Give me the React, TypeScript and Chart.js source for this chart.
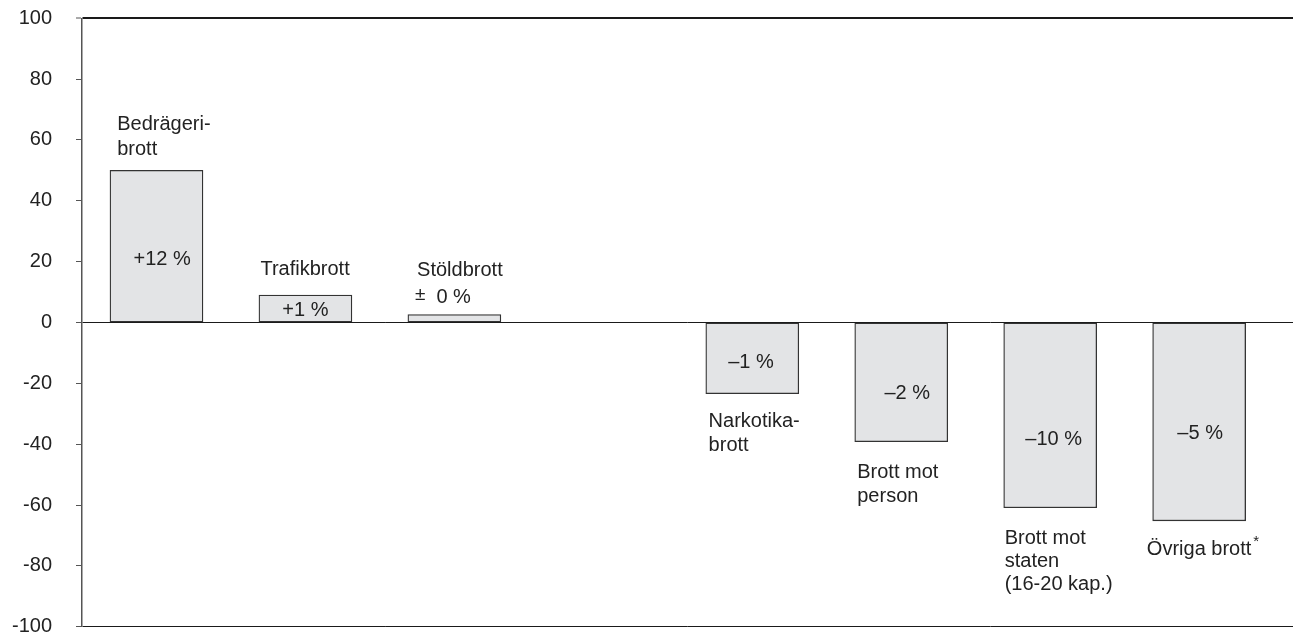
import React, { useEffect, useRef } from "react";
import { Chart, registerables } from "chart.js";

Chart.register(...registerables);

// ---- data ----
const categories: string[][] = [
  ["Bedrägeri-", "brott"],
  ["Trafikbrott"],
  ["Stöldbrott"],
  [],
  ["Narkotika-", "brott"],
  ["Brott mot", "person"],
  ["Brott mot", "staten", "(16-20 kap.)"],
  ["Övriga brott"],
];
const values: (number | null)[] = [50, 9, 2.6, null, -23.4, -39.2, -60.9, -65.2];
const changeLabels: string[] = ["+12 %", "+1 %", "± 0 %", "", "–1 %", "–2 %", "–10 %", "–5 %"];
const labelMarks: string[] = ["", "", "", "", "", "", "", "*"];
const yMin = -100;
const yMax = 100;
const yStep = 20;

// ---- text placement (pixel offsets relative to bar centre / bar end) ----
const placement = [
  { lx: -39.3, ly: -40.7, lh: 25.4, cx: 5.7, cy: 95, calign: "center" },
  { lx: -45, ly: -20, lh: 24, cx: 0, cy: 21, calign: "center" },
  { lx: -37.3, ly: -38.7, lh: 24, cx: -39.5, cy: -12, calign: "left" },
  { lx: 0, ly: 0, lh: 24, cx: 0, cy: 0, calign: "center" },
  { lx: -43.7, ly: 33.3, lh: 24.3, cx: -1.3, cy: -26, calign: "center" },
  { lx: -44, ly: 36, lh: 24, cx: 6, cy: -42.7, calign: "center" },
  { lx: -45.5, ly: 36.3, lh: 23.2, cx: 3.5, cy: -62.7, calign: "center" },
  { lx: -52.3, ly: 34.3, lh: 24, cx: 1, cy: -81.7, calign: "center" },
];

const FONT = "'Liberation Sans', Arial, Helvetica, sans-serif";
const TEXT = "#222222";

const annotationPlugin = {
  id: "barAnnotations",
  afterDatasetsDraw(chart: any) {
    const ctx = chart.ctx;
    const meta = chart.getDatasetMeta(0);
    ctx.save();
    ctx.fillStyle = TEXT;
    ctx.textBaseline = "alphabetic";
    meta.data.forEach((el: any, i: number) => {
      if (values[i] === null) return;
      const p = placement[i];
      const x = el.x;
      const y = el.y;
      ctx.textAlign = "left";
      const lines = categories[i];
      lines.forEach((line, k) => {
        const tx = x + p.lx;
        const ty = y + p.ly + k * p.lh;
        ctx.font = `20px ${FONT}`;
        ctx.fillText(line, tx, ty);
        if (k === lines.length - 1 && labelMarks[i]) {
          const w = ctx.measureText(line).width;
          ctx.font = `15px ${FONT}`;
          ctx.fillText(labelMarks[i], tx + w + 2, ty - 9);
        }
      });
      const lbl = changeLabels[i];
      if (lbl.startsWith("±")) {
        // plus-minus sign followed by the value
        ctx.textAlign = "left";
        ctx.font = `19px ${FONT}`;
        ctx.fillText("±", x + p.cx, y + p.cy - 3);
        ctx.font = `20px ${FONT}`;
        ctx.fillText(lbl.slice(1).trim(), x + p.cx + 21.5, y + p.cy);
      } else {
        ctx.font = `20px ${FONT}`;
        ctx.textAlign = p.calign as CanvasTextAlign;
        ctx.fillText(lbl, x + p.cx, y + p.cy);
      }
    });
    ctx.restore();
  },
};

export default function App() {
  const ref = useRef<HTMLCanvasElement | null>(null);

  useEffect(() => {
    if (!ref.current) return;
    const data = values.map((v, i) => ({ x: i, y: v }));
    const chart = new Chart(ref.current, {
      type: "bar",
      data: {
        datasets: [
          {
            data: data as any,
            backgroundColor: "#e3e4e6",
            borderColor: "#333333",
            borderWidth: 1.3,
            borderSkipped: false,
            barThickness: 93,
          },
        ],
      },
      options: {
        animation: false,
        responsive: true,
        maintainAspectRatio: false,
        layout: { padding: { top: 18.3, right: 0, bottom: 10.3, left: 0 } },
        plugins: {
          legend: { display: false },
          tooltip: { enabled: false },
        },
        scales: {
          x: {
            type: "linear",
            display: false,
            offset: false,
            min: -0.5,
            max: 7.63,
          },
          y: {
            min: yMin,
            max: yMax,
            afterFit(scale: any) {
              scale.width = 82;
              scale.paddingTop = 0;
              scale.paddingBottom = 0;
            },
            ticks: {
              stepSize: yStep,
              padding: 24,
              color: TEXT,
              font: { family: FONT, size: 20, lineHeight: 1 },
            },
            grid: {
              drawTicks: true,
              tickLength: 6,
              tickColor: "#555555",
              tickWidth: 1,
              color: (c: any) => {
                const v = c.tick ? c.tick.value : null;
                return v === 0 || v === yMax || v === yMin ? "#1a1a1a" : "rgba(0,0,0,0)";
              },
              lineWidth: (c: any) => {
                const v = c.tick ? c.tick.value : null;
                return v === yMax ? 2 : 1;
              },
            },
            border: { display: true, color: "#555555", width: 1.5 },
          },
        },
      },
      plugins: [annotationPlugin],
    });
    return () => chart.destroy();
  }, []);

  return (
    <div style={{ position: "fixed", left: 0, top: 0, width: 1293, height: 637, background: "#fff" }}>
      <canvas ref={ref} />
    </div>
  );
}
